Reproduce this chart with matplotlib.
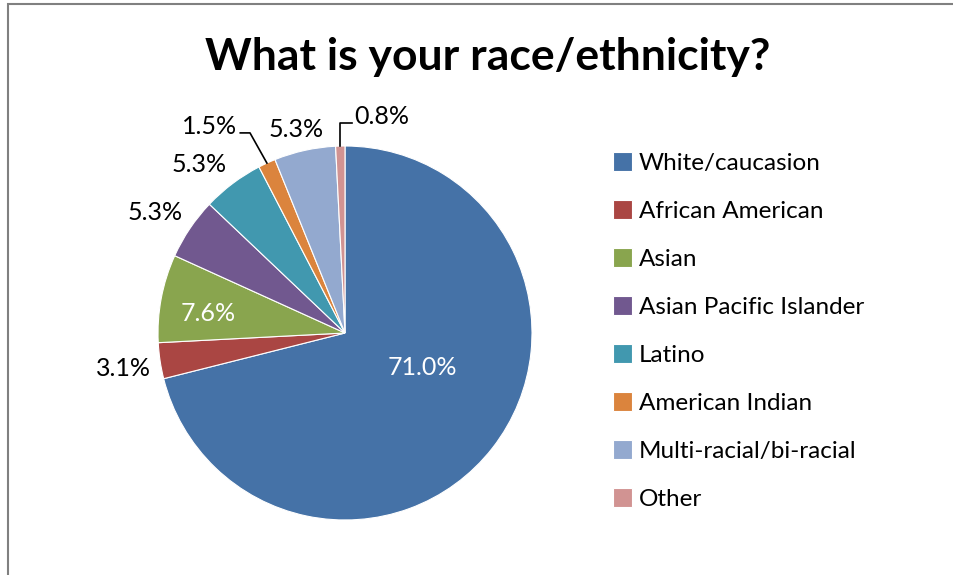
import numpy as np
import matplotlib
matplotlib.use("Agg")
import matplotlib.pyplot as plt
from matplotlib.patches import Rectangle

plt.rcParams['font.family'] = ['Lato', 'DejaVu Sans']

# data
categories = ["White/caucasion", "African American", "Asian", "Asian Pacific Islander",
              "Latino", "American Indian", "Multi-racial/bi-racial", "Other"]
values = [71.0, 3.1, 7.6, 5.3, 5.3, 1.5, 5.3, 0.8]
colors = ["#4572A7", "#AA4643", "#89A54E", "#71588F",
          "#4198AF", "#DB843D", "#93A9CF", "#D19392"]

# label placement (angle shift in degrees, radius as fraction of pie radius)
lab_shift = [14, 0.5, 2.7, 1.6, 3.9, 8.8, 1.2, -8.2]
lab_rad = [0.45, 1.2, 0.74, 1.2, 1.19, 1.33, 1.12, 1.17]
lab_inside = [True, False, True, False, False, False, False, False]

W, H = 954, 575
fig = plt.figure(figsize=(W / 100, H / 100), dpi=100)

# outer frame (cropped at right/bottom)
fig.patches.append(Rectangle((8 / W, -0.1), 1.2, 1 - 4 / H + 0.1, transform=fig.transFigure,
                             fill=False, edgecolor="#808080", linewidth=1.5))

cx, cy, R = 345, 333, 187
ax = fig.add_axes([(cx - R) / W, (H - cy - R) / H, 2 * R / W, 2 * R / H])
wedges, _ = ax.pie(values, colors=colors, startangle=90, counterclock=False, radius=1,
                   wedgeprops=dict(edgecolor="white", linewidth=0.8))
ax.set_xlim(-1, 1)
ax.set_ylim(-1, 1)
ax.set_aspect("equal")
ax.axis("off")

fs = 18
for i, w in enumerate(wedges):
    mid = (w.theta1 + w.theta2) / 2
    a = np.deg2rad(mid + lab_shift[i])
    x, y = lab_rad[i] * np.cos(a), lab_rad[i] * np.sin(a)
    txt = "%.1f%%" % values[i]
    col = "white" if lab_inside[i] else "black"
    if categories[i] == "American Indian":
        m = np.deg2rad(mid)
        ex, ey = np.cos(m), np.sin(m)
        ax.plot([ex, -0.508, -0.56], [ey, 1.07, 1.07], color="black", lw=1.2, clip_on=False)
        ax.text(-0.575, 1.105, txt, ha="right", va="center", fontsize=fs, color=col)
    elif categories[i] == "Other":
        m = np.deg2rad(mid)
        ex, ey = np.cos(m), np.sin(m)
        ax.plot([ex, ex, 0.037], [ey, 1.123, 1.123], color="black", lw=1.2, clip_on=False)
        ax.text(0.05, 1.16, txt, ha="left", va="center", fontsize=fs, color=col)
    else:
        ax.text(x, y, txt, ha="center", va="center", fontsize=fs, color=col)

fig.text(488 / W, 1 - 70 / H, "What is your race/ethnicity?", ha="center", va="baseline",
         fontsize=32, fontweight="bold")

fig.legend(wedges, categories, loc="upper left", bbox_to_anchor=(613 / W, 1 - 152 / H),
           frameon=False, fontsize=17.5, handlelength=0.8, handleheight=0.8,
           handletextpad=0.25, labelspacing=1.08, borderaxespad=0, borderpad=0)

fig.savefig("out.png", dpi=100)
